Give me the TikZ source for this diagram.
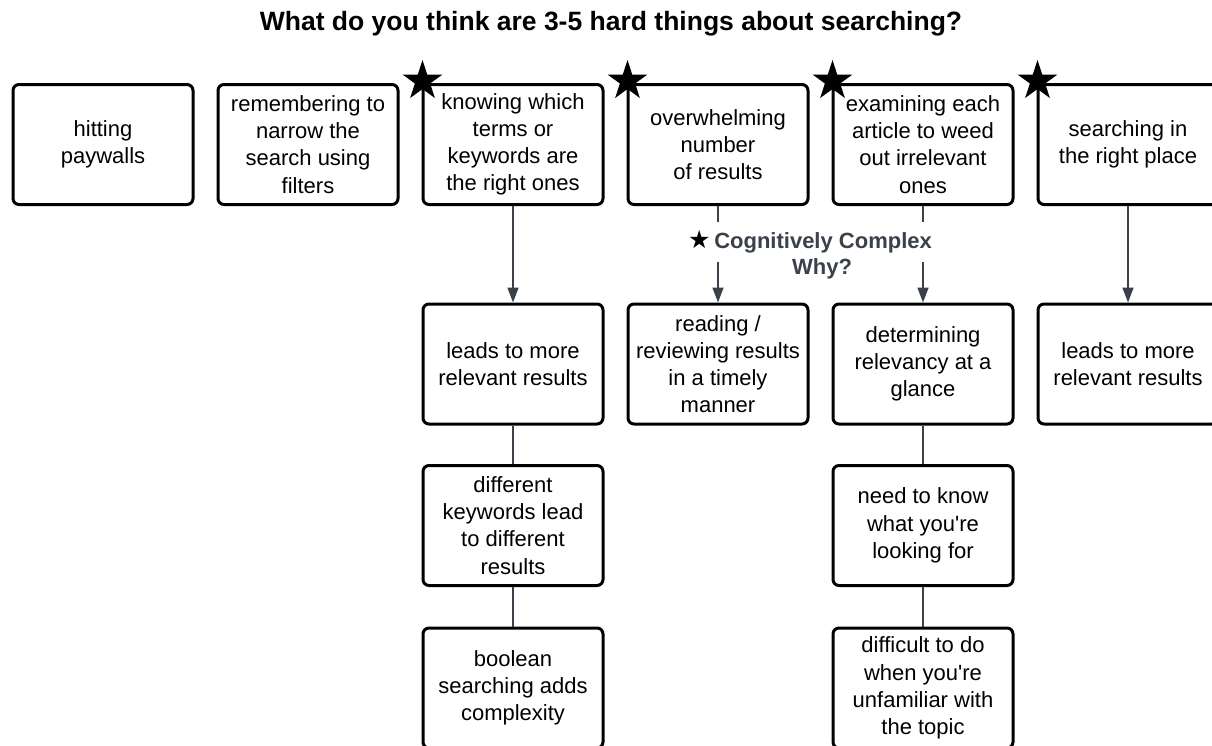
\documentclass[tikz,border=0pt]{standalone}
\usepackage{fontspec}
\setmainfont{Liberation Sans}
\newfontfamily\symfont{DejaVu Sans}
\usetikzlibrary{shapes.geometric,arrows.meta}
\definecolor{linkgray}{HTML}{3A414A}

\begin{document}
\begin{tikzpicture}[x=1pt,y=-1pt,
  card/.style={draw, line width=3pt, rounded corners=6pt, minimum width=180pt,
    minimum height=120pt, align=center, inner xsep=0pt, inner ysep=2pt,
    font=\fontsize{22}{27.2}\selectfont},
  badge/.style={star, star points=5, star point ratio=2.618, fill=black,
    inner sep=0pt, minimum size=42pt},
  link/.style={linkgray, line width=1.6pt},
  linkarrow/.style={link, -{Triangle[width=11pt,length=15pt]}}]
  \useasboundingbox (0,0) rectangle (1212,745);
  \clip (0,0) rectangle (1212,745);
  % Title
  \node[font=\bfseries\fontsize{26.5}{30}\selectfont] (title) at (611,24)
    {What do you think are 3-5 hard things about searching?};
  % Top row
  \node[card] (paywalls) at (103,144.5) {hitting\\paywalls};
  \node[card] (filters) at (308,144.5) {remembering to\\narrow the\\search using\\filters};
  \node[card] (terms) at (513,144.5) {knowing which\\terms or\\keywords are\\the right ones};
  \node[card] (overload) at (718,144.5) {overwhelming\\number\\of results};
  \node[card] (examine) at (923,144.5) {examining each\\article to weed\\out irrelevant\\ones};
  \node[card] (place) at (1128,144.5) {searching in\\the right place};
  % Stars
  \foreach \n in {terms,overload,examine,place} {
    \node[badge] (star-\n) at ([xshift=1pt,yshift=2pt]\n.north west) {};
  }
  % Second row
  \node[card] (relevant) at (513,364) {leads to more\\relevant results};
  \node[card] (reading) at (718,364) {reading /\\reviewing results\\in a timely\\manner};
  \node[card] (glance) at (923,364) {determining\\relevancy at a\\glance};
  \node[card] (relevant2) at (1128,364) {leads to more\\relevant results};
  % Third row
  \node[card] (keywords) at (513,525.5) {different\\keywords lead\\to different\\results};
  \node[card] (know) at (923,525.5) {need to know\\what you\textquotesingle re\\looking for};
  % Fourth row
  \node[card] (boolean) at (513,688) {boolean\\searching adds\\complexity};
  \node[card] (unfamiliar) at (923,688) {difficult to do\\when you\textquotesingle re\\unfamiliar with\\the topic};
  % Arrows
  \draw[linkarrow] (terms) -- (relevant);
  \draw[linkarrow] (overload) -- (reading);
  \draw[linkarrow] (examine) -- (glance);
  \draw[linkarrow] (place) -- (relevant2);
  % Plain links
  \draw[link] (relevant) -- (keywords);
  \draw[link] (keywords) -- (boolean);
  \draw[link] (glance) -- (know);
  \draw[link] (know) -- (unfamiliar);
  % Label over the arrows
  \node[fill=white, text=linkgray, inner xsep=2pt, inner ysep=9pt,
    font=\bfseries\fontsize{22}{26}\selectfont] (complex) at (810,242)
    {{\symfont\fontsize{25}{26}\selectfont\color{black}★}\,Cognitively Complex};
  \node[text=linkgray, font=\bfseries\fontsize{22}{26}\selectfont] (why) at (822,269) {Why?};
\end{tikzpicture}
\end{document}
